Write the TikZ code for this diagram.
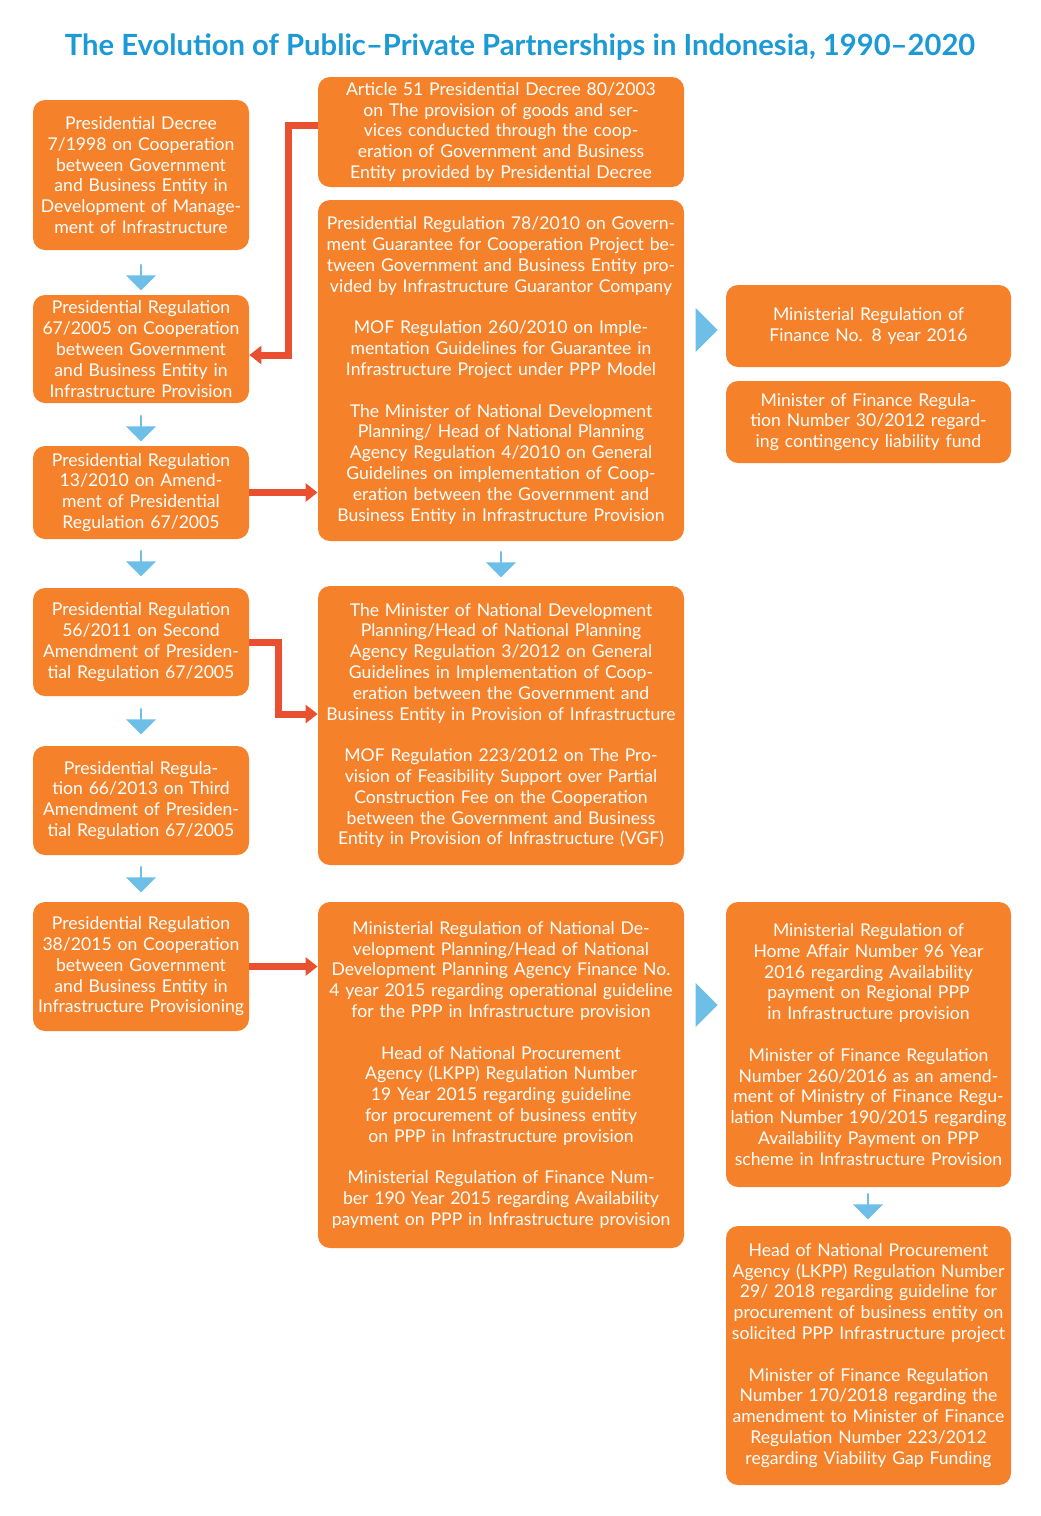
\documentclass[tikz,border=0pt]{standalone}
\usepackage{fontspec}
\setmainfont{Lato}
\usetikzlibrary{shapes.arrows,arrows.meta}
\definecolor{org}{HTML}{F5822A}
\definecolor{ttl}{HTML}{1B9AD6}
\definecolor{blu}{HTML}{6DBFE8}
\definecolor{rd}{HTML}{E8502F}
\begin{document}
\begin{tikzpicture}[x=0.5pt,y=-0.5pt,
  box/.style={fill=org,rounded corners=6pt,text=white,align=center,inner sep=0pt,
    font=\fontsize{8.8}{10.4}\selectfont},
  lb/.style={box,text width=104pt,minimum width=108pt},
  mb/.style={box,text width=178pt,minimum width=183pt},
  rb/.style={box,text width=140pt,minimum width=142.5pt},
  dn/.style={single arrow,fill=blu,draw=none,shape border rotate=270,minimum width=15pt,
    minimum height=13pt,single arrow head extend=3pt,inner sep=0pt},
  rt/.style={single arrow,fill=blu,draw=none,minimum width=22pt,
    minimum height=11pt,single arrow head extend=4pt,inner sep=0pt},
  red/.style={draw=rd,line width=3.5pt,-{Triangle[length=6pt,width=9pt]}}]
\useasboundingbox (0,0) rectangle (1040,1516);
\node[text=ttl,font=\bfseries\fontsize{14.6}{17}\selectfont] (title) at (520,47) {The Evolution of Public–Private Partnerships in Indonesia, 1990–2020};
% left
\node[lb,minimum height=75pt] (L1) at (141,175) {Presidential Decree 7/1998 on Cooperation between Government and Business Entity in Development of Management of Infrastructure};
\node[lb,minimum height=54pt] (L2) at (141,349) {Presidential Regulation 67/2005 on Cooperation between Government and Business Entity in Infrastructure Provision};
\node[lb,minimum height=46.5pt] (L3) at (141,492.5) {Presidential Regulation 13/2010 on Amendment of Presidential Regulation 67/2005};
\node[lb,minimum height=54pt] (L4) at (141,642) {Presidential Regulation 56/2011 on Second Amendment of Presidential Regulation 67/2005};
\node[lb,minimum height=54.5pt] (L5) at (141,800.5) {Presidential Regulation 66/2013 on Third Amendment of Presidential Regulation 67/2005};
\node[lb,minimum height=64.5pt] (L6) at (141,966.5) {Presidential Regulation 38/2015 on Cooperation between Government and Business Entity in Infrastructure Provisioning};
% middle
\node[mb,minimum height=55pt] (M1) at (501,132) {Article 51 Presidential Decree 80/2003 on The provision of goods and services conducted through the cooperation of Government and Business Entity provided by Presidential Decree};
\node[mb,minimum height=170.5pt] (M2) at (501,370.5) {Presidential Regulation 78/2010 on Government Guarantee for Cooperation Project between Government and Business Entity provided by Infrastructure Guarantor Company\\[10.4pt]
MOF Regulation 260/2010 on Implementation Guidelines for Guarantee in Infrastructure Project under PPP Model\\[10.4pt]
The Minister of National Development Planning/ Head of National Planning Agency Regulation 4/2010 on General Guidelines on implementation of Cooperation between the Government and Business Entity in Infrastructure Provision};
\node[mb,minimum height=139.5pt] (M3) at (501,725.5) {The Minister of National Development Planning/Head of National Planning Agency Regulation 3/2012 on General Guidelines in Implementation of Cooperation between the Government and Business Entity in Provision of Infrastructure\\[10.4pt]
MOF Regulation 223/2012 on The Provision of Feasibility Support over Partial Construction Fee on the Cooperation between the Government and Business Entity in Provision of Infrastructure (VGF)};
\node[mb,minimum height=173pt] (M4) at (501,1075) {Ministerial Regulation of National Development Planning/Head of National Development Planning Agency Finance No. 4 year 2015 regarding operational guideline for the PPP in Infrastructure provision\\[10.4pt]
Head of National Procurement Agency (LKPP) Regulation Number 19 Year 2015 regarding guideline for procurement of business entity on PPP in Infrastructure provision\\[10.4pt]
Ministerial Regulation of Finance Number 190 Year 2015 regarding Availability payment on PPP in Infrastructure provision};
% right
\node[rb,minimum height=41pt] (R1) at (868.5,326) {Ministerial Regulation of Finance No. 8 year 2016};
\node[rb,minimum height=41pt] (R2) at (868.5,422) {Minister of Finance Regulation Number 30/2012 regarding contingency liability fund};
\node[rb,minimum height=142.5pt] (R3) at (868.5,1044.5) {Ministerial Regulation of Home Affair Number 96 Year 2016 regarding Availability payment on Regional PPP in Infrastructure provision\\[10.4pt]
Minister of Finance Regulation Number 260/2016 as an amendment of Ministry of Finance Regulation Number 190/2015 regarding Availability Payment on PPP scheme in Infrastructure Provision};
\node[rb,minimum height=129.5pt] (R4) at (868.5,1355.5) {Head of National Procurement Agency (LKPP) Regulation Number 29/ 2018 regarding guideline for procurement of business entity on solicited PPP Infrastructure project\\[10.4pt]
Minister of Finance Regulation Number 170/2018 regarding the amendment to Minister of Finance Regulation Number 223/2012 regarding Viability Gap Funding};
% blue arrows
\node[dn] (a1) at (141,277) {};
\node[dn] (a2) at (141,428) {};
\node[dn] (a3) at (141,563) {};
\node[dn] (a4) at (141,721) {};
\node[dn] (a5) at (141,879) {};
\node[dn] (a6) at (501,564) {};
\node[dn] (a7) at (868,1206) {};
\node[rt] (a8) at (706,330) {};
\node[rt] (a9) at (706,1005) {};
% red connectors
\coordinate (c1) at (288,125);
\draw[red] (M1.west|-c1) -- (c1) -- (288,355) -- (L2.east|-0,355);
\draw[red] (L3.east) -- (M2.west|-L3.east);
\coordinate (c2) at (278,642);
\draw[red] (L4.east|-c2) -- (c2) -- (278,714) -- (M3.west|-0,714);
\draw[red] (L6.east) -- (M4.west|-L6.east);
\end{tikzpicture}
\end{document}
